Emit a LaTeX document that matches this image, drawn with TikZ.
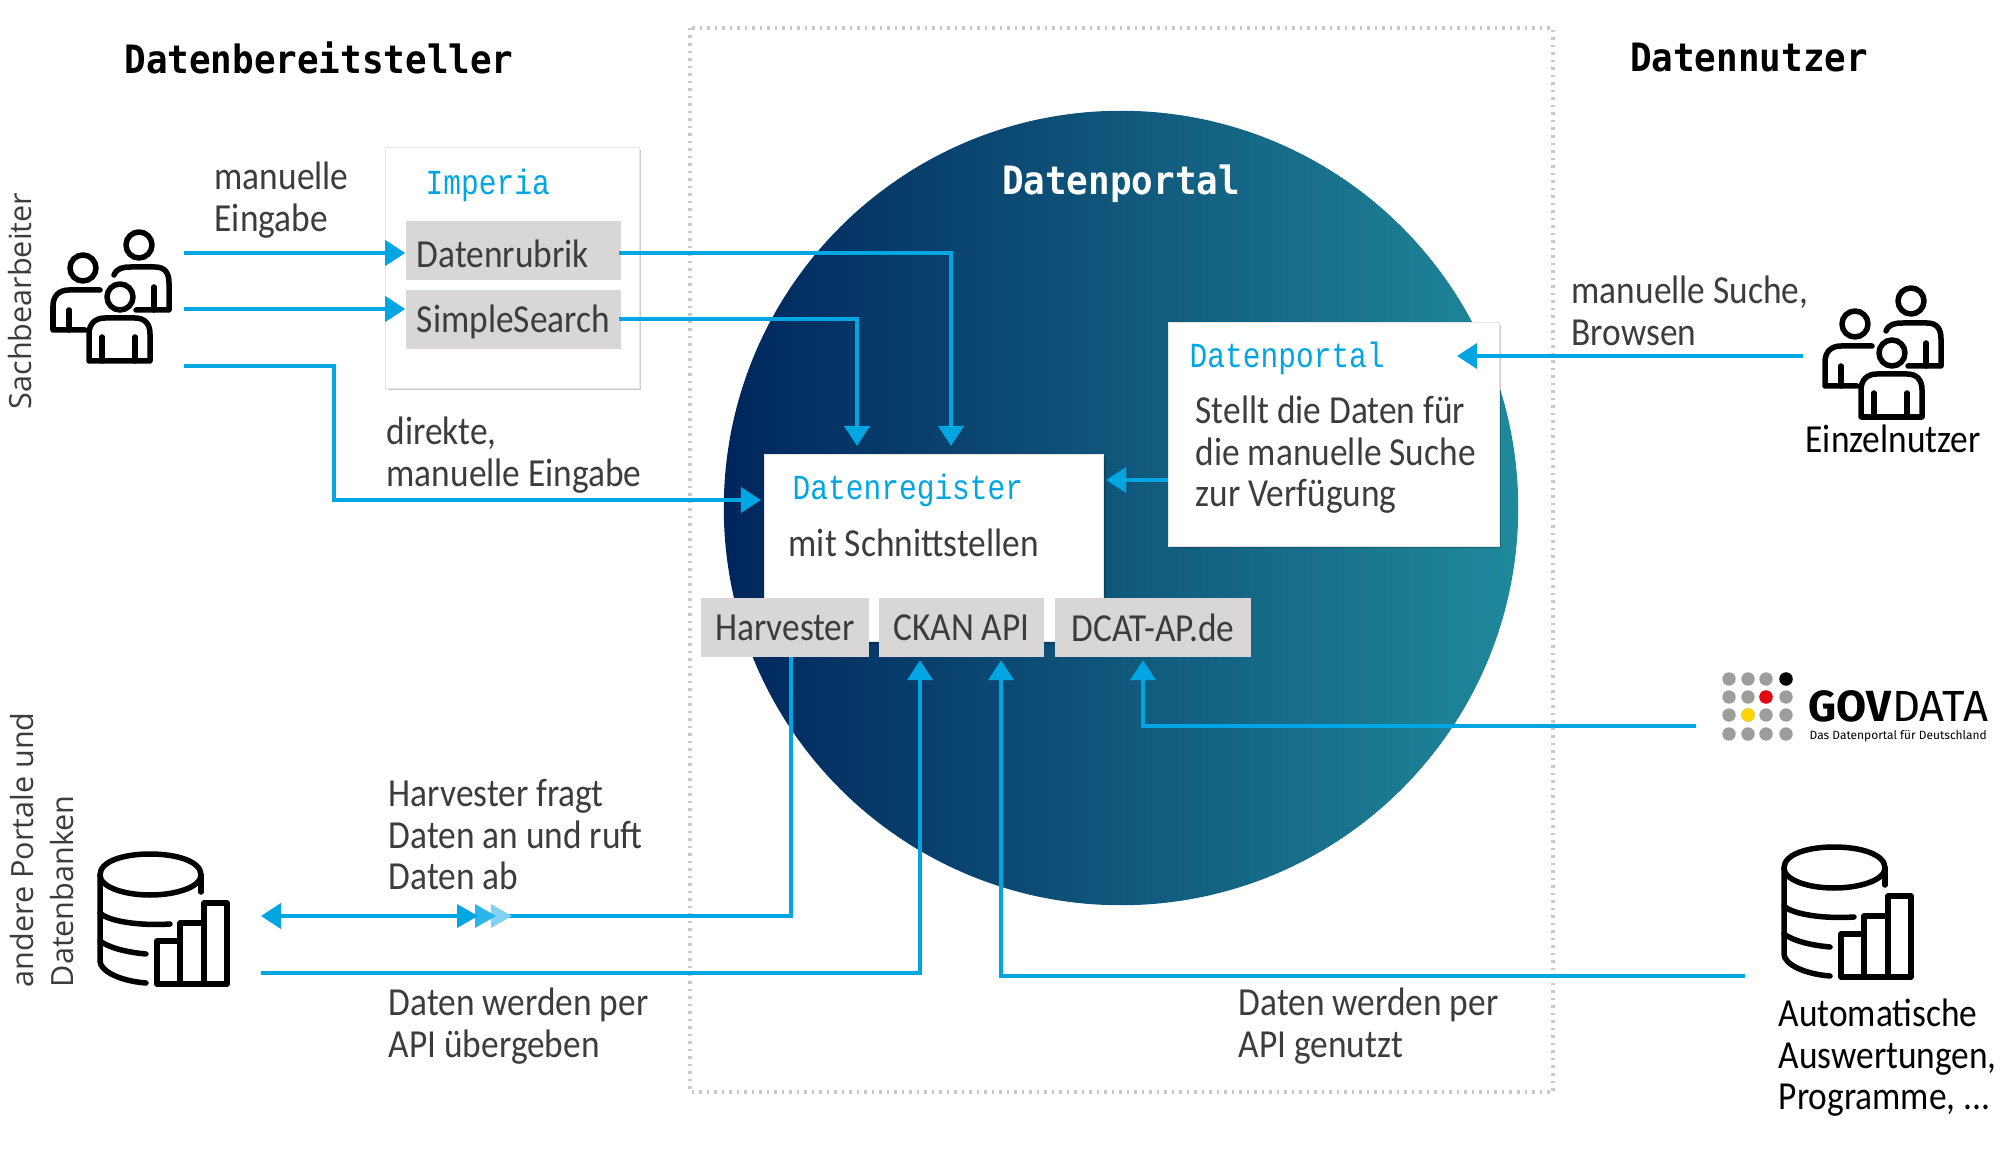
\documentclass[tikz,border=0pt]{standalone}
\usepackage{fontspec}
\setmainfont[FakeStretch=0.89]{Carlito}
\newfontfamily\titlefont[FakeStretch=0.84]{Liberation Mono}
\newfontfamily\headfont[FakeStretch=0.92]{DejaVu Sans Mono}
\newfontfamily\sidefont{Open Sans}
\newfontfamily\logofont{Fira Sans}
\usepackage{xcolor}
\usetikzlibrary{arrows.meta, positioning, calc, shadows}
\definecolor{portalblue}{HTML}{00A6E2}
\definecolor{midblue}{HTML}{2BB5E8}
\definecolor{paleblue}{HTML}{83D0F2}
\definecolor{boxgray}{HTML}{D8D7D5}
\definecolor{textgray}{HTML}{3C3C3B}
\definecolor{dotgray}{HTML}{C9C9C9}
\definecolor{logogray}{HTML}{9D9D9C}
\definecolor{logored}{HTML}{E30613}
\definecolor{logoyellow}{HTML}{FFD500}
\definecolor{circleleft}{HTML}{00265C}
\definecolor{circlemid}{HTML}{0F4A7C}
\definecolor{circleright}{HTML}{20899C}

\begin{document}
\begin{tikzpicture}[
    x=0.01cm, y=-0.01cm,
    >=Stealth,
    label/.style={anchor=west, align=left, text=textgray, font=\fontsize{11.3}{11.8}\selectfont, inner sep=0pt},
    headline/.style={font=\headfont\bfseries\fontsize{11.1}{12}\selectfont, text=black, inner sep=0pt},
    boxtitle/.style={anchor=west, font=\titlefont\fontsize{10}{12}\selectfont, text=portalblue, inner sep=0pt},
    sidelabel/.style={rotate=90, align=left, font=\sidefont\fontsize{8.7}{11.6}\selectfont, text=textgray, inner sep=0pt},
    whitebox/.style={rectangle, fill=white, draw=black!10, line width=0.01cm, inner sep=0pt, drop shadow={shadow xshift=0.6pt, shadow yshift=-0.6pt, opacity=0.2, fill=black}},
    graybox/.style={rectangle, fill=boxgray, draw=none, text=textgray, font=\fontsize{11.3}{12}\selectfont, minimum height=0.58cm, inner ysep=0pt},
    arrow/.style={-{Triangle[length=0.2cm, width=0.25cm]}, draw=portalblue, line width=0.04cm},
    twoarrow/.style={{Triangle[length=0.2cm, width=0.25cm]}-, draw=portalblue, line width=0.04cm},
    plainline/.style={draw=portalblue, line width=0.04cm},
    icon/.style={draw=black, line width=0.055cm, line cap=round, line join=round},
    people/.pic={
        \draw[icon] (88,15) circle (13);
        \draw[icon] (32,38) circle (13);
        \draw[icon] (69,67) circle (13);
        \draw[icon] (63,45) .. controls (66,38) and (72,37) .. (80,37) -- (104,37) .. controls (114,37) and (118,43) .. (118,53) -- (118,80) -- (85,80);
        \draw[icon] (103,57) -- (103,80);
        \draw[icon] (49,60) -- (18,60) .. controls (8,60) and (2,66) .. (2,76) -- (2,100) -- (34,100);
        \draw[icon] (18,80) -- (18,100);
        \draw[icon] (38,131) -- (38,104) .. controls (38,94) and (44,88) .. (54,88) -- (84,88) .. controls (94,88) and (99,94) .. (99,104) -- (99,131) -- cycle;
        \draw[icon] (51,107) -- (51,131);
        \draw[icon] (84,107) -- (84,131);
    },
    database/.pic={
        \draw[icon] (2,24) .. controls (2,10) and (26,3) .. (52,3) .. controls (78,3) and (103,10) .. (103,24) .. controls (103,36) and (78,44) .. (52,44) .. controls (26,44) and (2,36) .. (2,24) -- cycle;
        \draw[icon] (103,24) -- (103,41);
        \draw[icon] (2,24) -- (2,110) .. controls (2,120) and (22,130) .. (48,132);
        \draw[icon] (2,62) .. controls (10,70) and (40,75) .. (72,73);
        \draw[icon] (2,90) .. controls (10,96) and (26,101) .. (48,103);
        \draw[icon] (59,133) rectangle (82,90);
        \draw[icon] (82,133) rectangle (106,72);
        \draw[icon] (106,133) rectangle (129,52);
    }
]
\useasboundingbox (0,0) rectangle (2000,1149);

% =============================================================
% Background: dotted frame and portal circle
% =============================================================
\draw[draw=dotgray, line width=0.035cm, dash pattern=on 0.025cm off 0.05cm] (690,28) rectangle (1553,1092);
\node[circle, minimum size=7.94cm, inner sep=0pt, left color=circleleft, middle color=circlemid, right color=circleright] (portal) at (1121,508) {};

% =============================================================
% Headlines
% =============================================================
\node[headline] (provider) at (319,58) {Datenbereitsteller};
\node[headline] (consumer) at (1749,58) {Datennutzer};
\node[headline, text=white] (portaltitle) at (1121,184) {Datenportal};

% =============================================================
% Imperia box (top left)
% =============================================================
\node[whitebox, minimum width=2.53cm, minimum height=2.40cm] (imperia) at (512.5,268) {};
\node[boxtitle] (imperiatitle) at (425,185) {Imperia};
\node[graybox, text width=1.93cm, inner xsep=0.11cm, align=left, text height=0.35cm, text depth=0.02cm] (rubrik) at (513.5,250.5) {Datenrubrik};
\node[graybox, text width=1.93cm, inner xsep=0.11cm, align=left, text height=0.27cm, text depth=0.02cm] (search) at (513.5,319.5) {SimpleSearch};

% =============================================================
% Datenregister with its interfaces
% =============================================================
\node[whitebox, minimum width=3.39cm, minimum height=1.87cm] (register) at (934,548) {};
\node[boxtitle] (registertitle) at (792,490) {Datenregister};
\node[label] (registertext) at (788,543) {mit Schnittstellen};
\node[graybox, minimum width=1.68cm] (harvester) at (785,627.5) {Harvester};
\node[graybox, minimum width=1.64cm] (ckan) at (961.5,627.5) {CKAN API};
\node[graybox, minimum width=1.96cm] (dcat) at (1153,627.5) {DCAT-AP.de};

% =============================================================
% Datenportal box
% =============================================================
\node[whitebox, minimum width=3.30cm, minimum height=2.23cm] (portalbox) at (1334,434.5) {};
\node[boxtitle] (portalboxtitle) at (1189,358) {Datenportal};
\node[label] (portalboxtext) at (1195,455) {Stellt die Daten für\\die manuelle Suche\\zur Verfügung};

% =============================================================
% Left side: Sachbearbeiter and other portals
% =============================================================
\pic at (51,230) {people};
\node[sidelabel] (clerk) at (20,301) {Sachbearbeiter};
\node[sidelabel, anchor=west] (otherportals) at (42,988) {andere Portale und\\Datenbanken};
\pic at (98,851) {database};

\coordinate (clerka) at (184,253);
\coordinate (clerkb) at (184,309);
\coordinate (clerkc) at (184,366);
\coordinate (clerkturn) at (334,500);
\draw[arrow] (clerka) -- (clerka -| rubrik.west);
\draw[arrow] (clerkb) -- (clerkb -| search.west);
\draw[arrow] (clerkc) -| (clerkturn) -- ($(clerkturn -| register.west)+(-3,0)$);

\node[label] (manual) at (214,200) {manuelle\\Eingabe};
\node[label] (direct) at (386,455) {direkte,\\manuelle Eingabe};

% Imperia into the register
\coordinate (rubrikout) at (619,253);
\coordinate (searchout) at (619,319);
\coordinate (rubrikturn) at (951,253);
\coordinate (searchturn) at (857,319);
\draw[arrow] (rubrikout) -- (rubrikturn) -- ($(rubrikturn |- register.north)+(0,-8)$);
\draw[arrow] (searchout) -- (searchturn) -- ($(searchturn |- register.north)+(0,-8)$);

% Datenportal into the register
\draw[arrow] (portalbox.west |- 0,480) -- ($(register.east |- 0,480)+(2,0)$);

% =============================================================
% Harvester and API channels (bottom)
% =============================================================
\coordinate (harvestturn) at (791,916);
\coordinate (harvestend) at (261,916);
\draw[plainline] (harvestturn |- harvester.south) -- (harvestturn) -- (500,916);
\draw[twoarrow] (harvestend) -- (460,916);
\foreach \tipx/\tipc in {512/paleblue, 496/midblue, 478/portalblue}
    \fill[\tipc] (\tipx,916) -- ++(-21,-12) -- ++(0,24) -- cycle;
\node[label] (harvesttext) at (388,835) {Harvester fragt\\Daten an und ruft\\Daten ab};

\coordinate (apiin) at (261,973);
\coordinate (apiinturn) at (920,973);
\draw[arrow] (apiin) -- (apiinturn) -- ($(apiinturn |- ckan.south)+(0,3)$);
\node[label] (apiintext) at (388,1026) {Daten werden per\\API übergeben};

\coordinate (apiout) at (1745,976);
\coordinate (apioutturn) at (1001,976);
\draw[arrow] (apiout) -- (apioutturn) -- ($(apioutturn |- ckan.south)+(0,3)$);
\node[label] (apiouttext) at (1238,1026) {Daten werden per\\API genutzt};

\coordinate (govin) at (1696,726);
\coordinate (govturn) at (1143,726);
\draw[arrow] (govin) -- (govturn) -- ($(govturn |- dcat.south)+(0,3)$);

% =============================================================
% Right side: Einzelnutzer, GovData, programs
% =============================================================
\pic at (1823,286) {people};
\node[label, text=black] (single) at (1805,439) {Einzelnutzer};
\coordinate (singleout) at (1803,356);
\draw[arrow] (singleout) -- (1457,356);
\node[label] (browse) at (1571,311) {manuelle Suche,\\Browsen};

% GovData logo
\foreach \row/\rowy in {1/679, 2/697, 3/715, 4/734}
    \foreach \col/\colx in {1/1729, 2/1748, 3/1766, 4/1786}
        \fill[logogray] (\colx,\rowy) circle (6.7);
\fill[black] (1786,679) circle (6.7);
\fill[logored] (1766,697) circle (6.7);
\fill[logoyellow] (1748,715) circle (6.7);
\node[anchor=base west, inner sep=0pt, font=\logofont\fontsize{12.4}{12}\selectfont] (govlogo) at (1808,721) {\textbf{GOV}DATA};
\node[anchor=base west, inner sep=0pt, font=\logofont\fontsize{3.4}{4}\selectfont] (govclaim) at (1809,739) {Das Datenportal für Deutschland};

\pic at (1782,844) {database};
\node[label, text=black] (programs) at (1778,1058) {Automatische\\Auswertungen,\\Programme, ...};

\end{tikzpicture}
\end{document}
